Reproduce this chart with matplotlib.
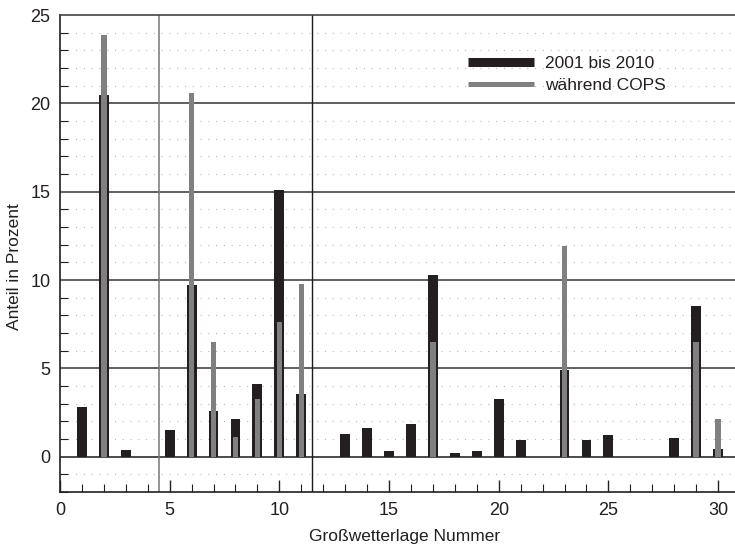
import matplotlib
matplotlib.use("Agg")
import matplotlib.pyplot as plt
from matplotlib.lines import Line2D
import numpy as np

plt.rcParams['font.family'] = ['Liberation Sans', 'DejaVu Sans']

lagen = list(range(1, 31))
anteil_2001_2010 = [2.8, 20.5, 0.4, 0, 1.5, 9.7, 2.6, 2.15, 4.1, 15.1,
                    3.55, 0, 1.3, 1.6, 0.3, 1.85, 10.3, 0.2, 0.3, 3.25,
                    0.95, 0, 4.9, 0.95, 1.2, 0, 0, 1.05, 8.55, 0.42]
cops_lagen = [2, 6, 7, 8, 9, 10, 11, 17, 23, 29, 30]
anteil_cops = [23.85, 20.6, 6.5, 1.1, 3.25, 7.6, 9.75, 6.5, 11.9, 6.5, 2.15]

label_black = "2001 bis 2010"
label_gray = "während COPS"
xlabel = "Großwetterlage Nummer"
ylabel = "Anteil in Prozent"

black = '#231f20'
gray = '#808080'
textc = '#231f20'

fig = plt.figure(figsize=(7.35, 5.46), dpi=100)
ax = fig.add_axes([60/735, 1-492/546, 675/735, (492-15)/546])

ax.set_xlim(0, 30.77)
ax.set_ylim(-2, 25)

# dotted minor grid
for y in range(-1, 25):
    if y % 5 != 0:
        ax.axhline(y, color='#b8b8b8', lw=0.8, ls=(0, (1, 6)), zorder=0)
for y in [0, 5, 10, 15, 20]:
    ax.axhline(y, color='#333333' if y else '#1a1a1a', lw=1.1, zorder=1)
ax.axvline(4.5, color='#777777', lw=1.1, zorder=1)
ax.axvline(11.5, color='#1a1a1a', lw=1.0, zorder=1)

ax.bar(lagen, anteil_2001_2010, width=0.45, color=black, zorder=2)
ax.bar(cops_lagen, anteil_cops, width=0.25, color=gray, zorder=3)

ax.spines['right'].set_visible(False)
ax.spines['top'].set_color('#444444')
ax.spines['top'].set_linewidth(1.2)
for s in ['left', 'bottom']:
    ax.spines[s].set_color(black)
    ax.spines[s].set_linewidth(1.2)

ax.set_xticks(range(0, 31, 5))
ax.set_xticks(range(0, 31), minor=True)
ax.set_yticks(range(0, 26, 5))
ax.set_yticks(range(-2, 26), minor=True)
ax.tick_params(axis='x', which='major', direction='in', length=9, width=1,
               color=black, labelsize=13, labelcolor=textc, pad=7, top=False)
ax.tick_params(axis='x', which='minor', direction='in', length=6, width=0.8,
               color=black, top=False)
ax.tick_params(axis='y', which='major', direction='in', length=0,
               labelsize=13, labelcolor=textc, pad=7, right=False)
ax.tick_params(axis='y', which='minor', direction='in', length=6, width=0.8,
               color=black, right=False)

ax.set_xlabel(xlabel, fontsize=12.5, color=textc, va='center')
ax.xaxis.set_label_coords((405-60)/675, (492-536)/477)
ax.set_ylabel(ylabel, fontsize=12.5, color=textc, va='center')
ax.yaxis.set_label_coords((15-60)/675, 0.5 + (240-253)/477)

handles = [Line2D([], [], color=black, lw=6.5, solid_capstyle='butt'),
           Line2D([], [], color=gray, lw=3.6, solid_capstyle='butt')]
ax.legend(handles, [label_black, label_gray], loc='upper left',
          bbox_to_anchor=((468-60)/675, (492-56)/477), frameon=False,
          fontsize=12.5, handlelength=3.8, handletextpad=0.65,
          borderpad=0, borderaxespad=0, labelspacing=0.38,
          labelcolor=textc)

fig.savefig('out.png', dpi=100)
